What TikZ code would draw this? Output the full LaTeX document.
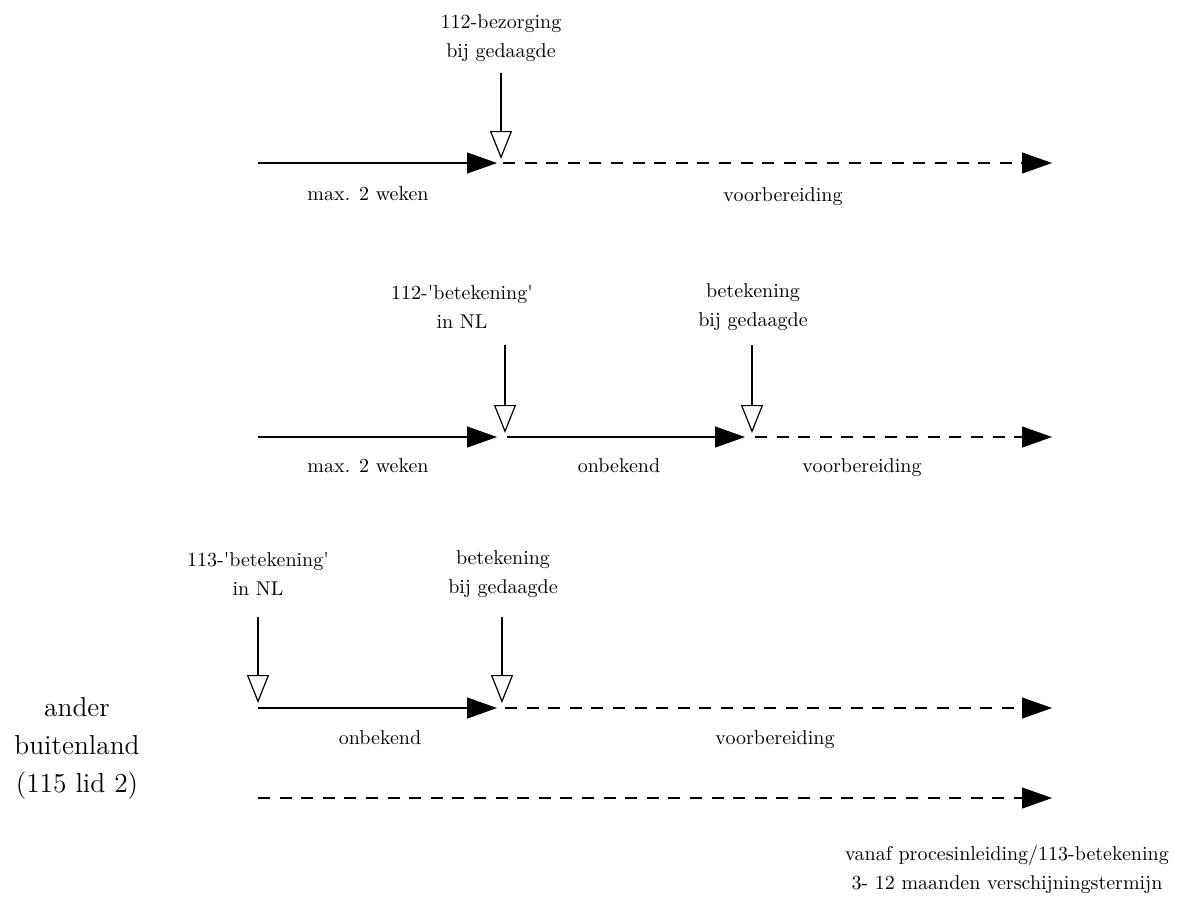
\documentclass[tikz,border=0pt]{standalone}
\usetikzlibrary{arrows.meta}
\begin{document}
\begin{tikzpicture}[x=0.5pt,y=-0.5pt,
  lbl/.style={inner sep=0pt,font=\fontsize{10}{14.5}\selectfont,align=center},
  biglbl/.style={inner sep=0pt,font=\fontsize{13.7}{19}\selectfont,align=center},
  solidarr/.style={line width=0.6pt,-{Triangle[length=15pt,width=10.5pt]}},
  dasharr/.style={line width=0.6pt,dash pattern=on 6pt off 4.8pt,-{Triangle[length=15pt,width=10.5pt]}},
  openarr/.style={line width=0.6pt,-{Triangle[open,length=14pt,width=11pt,line width=0.6pt]}}]
\useasboundingbox (0,0) rectangle (1191,896);

% ---------- row 1 ----------
\coordinate (a1) at (258,163);
\coordinate (b1) at (497,163);
\coordinate (c1) at (503,163);
\coordinate (e1) at (1052,163);
\coordinate (v1t) at (501,73);
\coordinate (v1b) at (501,159);
\node[lbl] (t1) at (501,38) {112-bezorging\\bij gedaagde};
\draw[solidarr] (a1) -- (b1);
\draw[dasharr] (c1) -- (e1);
\draw[openarr] (v1t) -- (v1b);
\node[lbl,anchor=base] (l1a) at (368,200) {max. 2 weken};
\node[lbl,anchor=base] (l1b) at (783,201) {voorbereiding};

% ---------- row 2 ----------
\coordinate (a2) at (258,437);
\coordinate (b2) at (497,437);
\coordinate (c2) at (507,437);
\coordinate (d2) at (745,437);
\coordinate (f2) at (755,437);
\coordinate (e2) at (1052,437);
\coordinate (v2t) at (505,345);
\coordinate (v2b) at (505,433);
\coordinate (w2t) at (752,345);
\coordinate (w2b) at (752,433);
\node[lbl] (t2) at (462,307) {112-\textquotesingle betekening\textquotesingle\\in NL};
\node[lbl] (u2) at (753,307) {betekening\\bij gedaagde};
\draw[solidarr] (a2) -- (b2);
\draw[solidarr] (c2) -- (d2);
\draw[dasharr] (f2) -- (e2);
\draw[openarr] (v2t) -- (v2b);
\draw[openarr] (w2t) -- (w2b);
\node[lbl,anchor=base] (l2a) at (368,472) {max. 2 weken};
\node[lbl,anchor=base] (l2b) at (619,472) {onbekend};
\node[lbl,anchor=base] (l2c) at (862,472) {voorbereiding};

% ---------- row 3 ----------
\coordinate (a3) at (258,708);
\coordinate (b3) at (497,708);
\coordinate (c3) at (505,708);
\coordinate (e3) at (1052,708);
\coordinate (v3t) at (258,617);
\coordinate (v3b) at (258,703);
\coordinate (w3t) at (502,617);
\coordinate (w3b) at (502,703);
\node[lbl] (t3) at (258,574) {113-\textquotesingle betekening\textquotesingle\\in NL};
\node[lbl] (u3) at (503,574) {betekening\\bij gedaagde};
\draw[solidarr] (a3) -- (b3);
\draw[dasharr] (c3) -- (e3);
\draw[openarr] (v3t) -- (v3b);
\draw[openarr] (w3t) -- (w3b);
\node[lbl,anchor=base] (l3a) at (380,744) {onbekend};
\node[lbl,anchor=base] (l3b) at (775,744) {voorbereiding};

% ---------- row 4 ----------
\coordinate (a4) at (258,798);
\coordinate (e4) at (1052,798);
\draw[dasharr] (a4) -- (e4);
\node[biglbl] (left) at (77,748) {ander\\buitenland\\(115 lid 2)};
\node[lbl] (bottom) at (1007,870) {vanaf procesinleiding/113-betekening\\3- 12 maanden verschijningstermijn};
\end{tikzpicture}
\end{document}
